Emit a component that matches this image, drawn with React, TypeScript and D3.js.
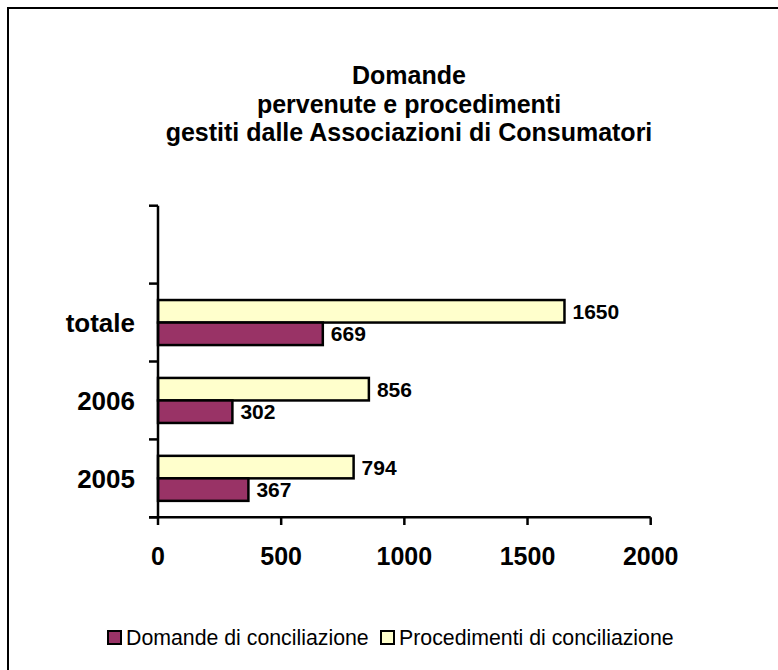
import React from "react";
import * as d3 from "d3";

const titleLines = [
  "Domande",
  "pervenute e procedimenti",
  "gestiti dalle Associazioni di Consumatori",
];
const categories = ["2005", "2006", "totale", ""];
const seriesNames = ["Domande di conciliazione", "Procedimenti di conciliazione"];
const domande: (number | null)[] = [367, 302, 669, null];
const procedimenti: (number | null)[] = [794, 856, 1650, null];
const xTicks = [0, 500, 1000, 1500, 2000];
const colors = ["#993366", "#FFFFCC"];

const W = 778;
const H = 670;
const FONT = "'Liberation Sans', Arial, Helvetica, sans-serif";

export default function App() {
  const x = d3.scaleLinear().domain([0, 2000]).range([158, 650.7]);
  const y = d3
    .scaleBand<string>()
    .domain(categories.map((c, i) => String(i)))
    .range([517.3, 205.7])
    .paddingInner(0.422)
    .paddingOuter(0.211);
  const step = y.step();
  const sub = d3
    .scaleBand<string>()
    .domain(["proc", "dom"])
    .range([0, y.bandwidth()]);

  const bandTop = (i: number) => Math.min(y(String(i))!, y(String(i))! + y.bandwidth());

  const boundaries = d3.range(categories.length + 1).map((k) => 517.3 - k * step);

  const series = [
    { key: "proc", values: procedimenti, color: colors[1] },
    { key: "dom", values: domande, color: colors[0] },
  ];

  return (
    <svg
      width={W}
      height={H}
      style={{ position: "absolute", left: 0, top: 0, background: "#fff" }}
      fontFamily={FONT}
    >
      <rect x={0} y={0} width={W} height={H} fill="#fff" />
      <rect x={8} y={8} width={W + 20} height={H + 20} fill="none" stroke="#000" strokeWidth={2} />

      {titleLines.map((t, i) => (
        <text
          key={i}
          x={409}
          y={84 + i * 28.7}
          textAnchor="middle"
          fontSize={25}
          fontWeight="bold"
          fill="#000"
        >
          {t}
        </text>
      ))}

      {categories.map((c, i) =>
        series.map((s) => {
          const v = s.values[i];
          if (v == null) return null;
          const top = bandTop(i) + sub(s.key)!;
          const h = sub.bandwidth();
          return (
            <g key={c + s.key}>
              <rect
                x={x(0)}
                y={top}
                width={x(v) - x(0)}
                height={h}
                fill={s.color}
                stroke="#000"
                strokeWidth={2.5}
              />
              <text
                x={x(v) + 8}
                y={top + h / 2}
                dy="0.36em"
                fontSize={21}
                fontWeight="bold"
                fill="#000"
              >
                {v}
              </text>
            </g>
          );
        })
      )}

      <line x1={158} x2={158} y1={boundaries[boundaries.length - 1]} y2={518.3} stroke="#000" strokeWidth={2.5} />
      {boundaries.map((b, k) => (
        <line key={k} x1={149} x2={158} y1={b} y2={b} stroke="#000" strokeWidth={2.5} />
      ))}
      {categories.map((c, i) => (
        <text
          key={"c" + i}
          x={135}
          y={bandTop(i) + y.bandwidth() / 2}
          dy="0.36em"
          textAnchor="end"
          fontSize={26}
          fontWeight="bold"
          fill="#000"
        >
          {c}
        </text>
      ))}

      <line x1={149} x2={x(2000)} y1={517.3} y2={517.3} stroke="#000" strokeWidth={2.5} />
      {xTicks.map((t) => (
        <g key={t}>
          <line x1={x(t)} x2={x(t)} y1={517.3} y2={525} stroke="#000" strokeWidth={2.5} />
          <text
            x={x(t)}
            y={565}
            textAnchor="middle"
            fontSize={25}
            fontWeight="bold"
            fill="#000"
          >
            {t}
          </text>
        </g>
      ))}

      {[
        { name: seriesNames[0], color: colors[0], sx: 107 },
        { name: seriesNames[1], color: colors[1], sx: 380 },
      ].map((l) => (
        <g key={l.name}>
          <rect x={l.sx + 1} y={631} width={13} height={13} fill={l.color} stroke="#000" strokeWidth={2} />
          <text x={l.sx + 19} y={644.5} fontSize={21.3} fill="#000">
            {l.name}
          </text>
        </g>
      ))}
    </svg>
  );
}
